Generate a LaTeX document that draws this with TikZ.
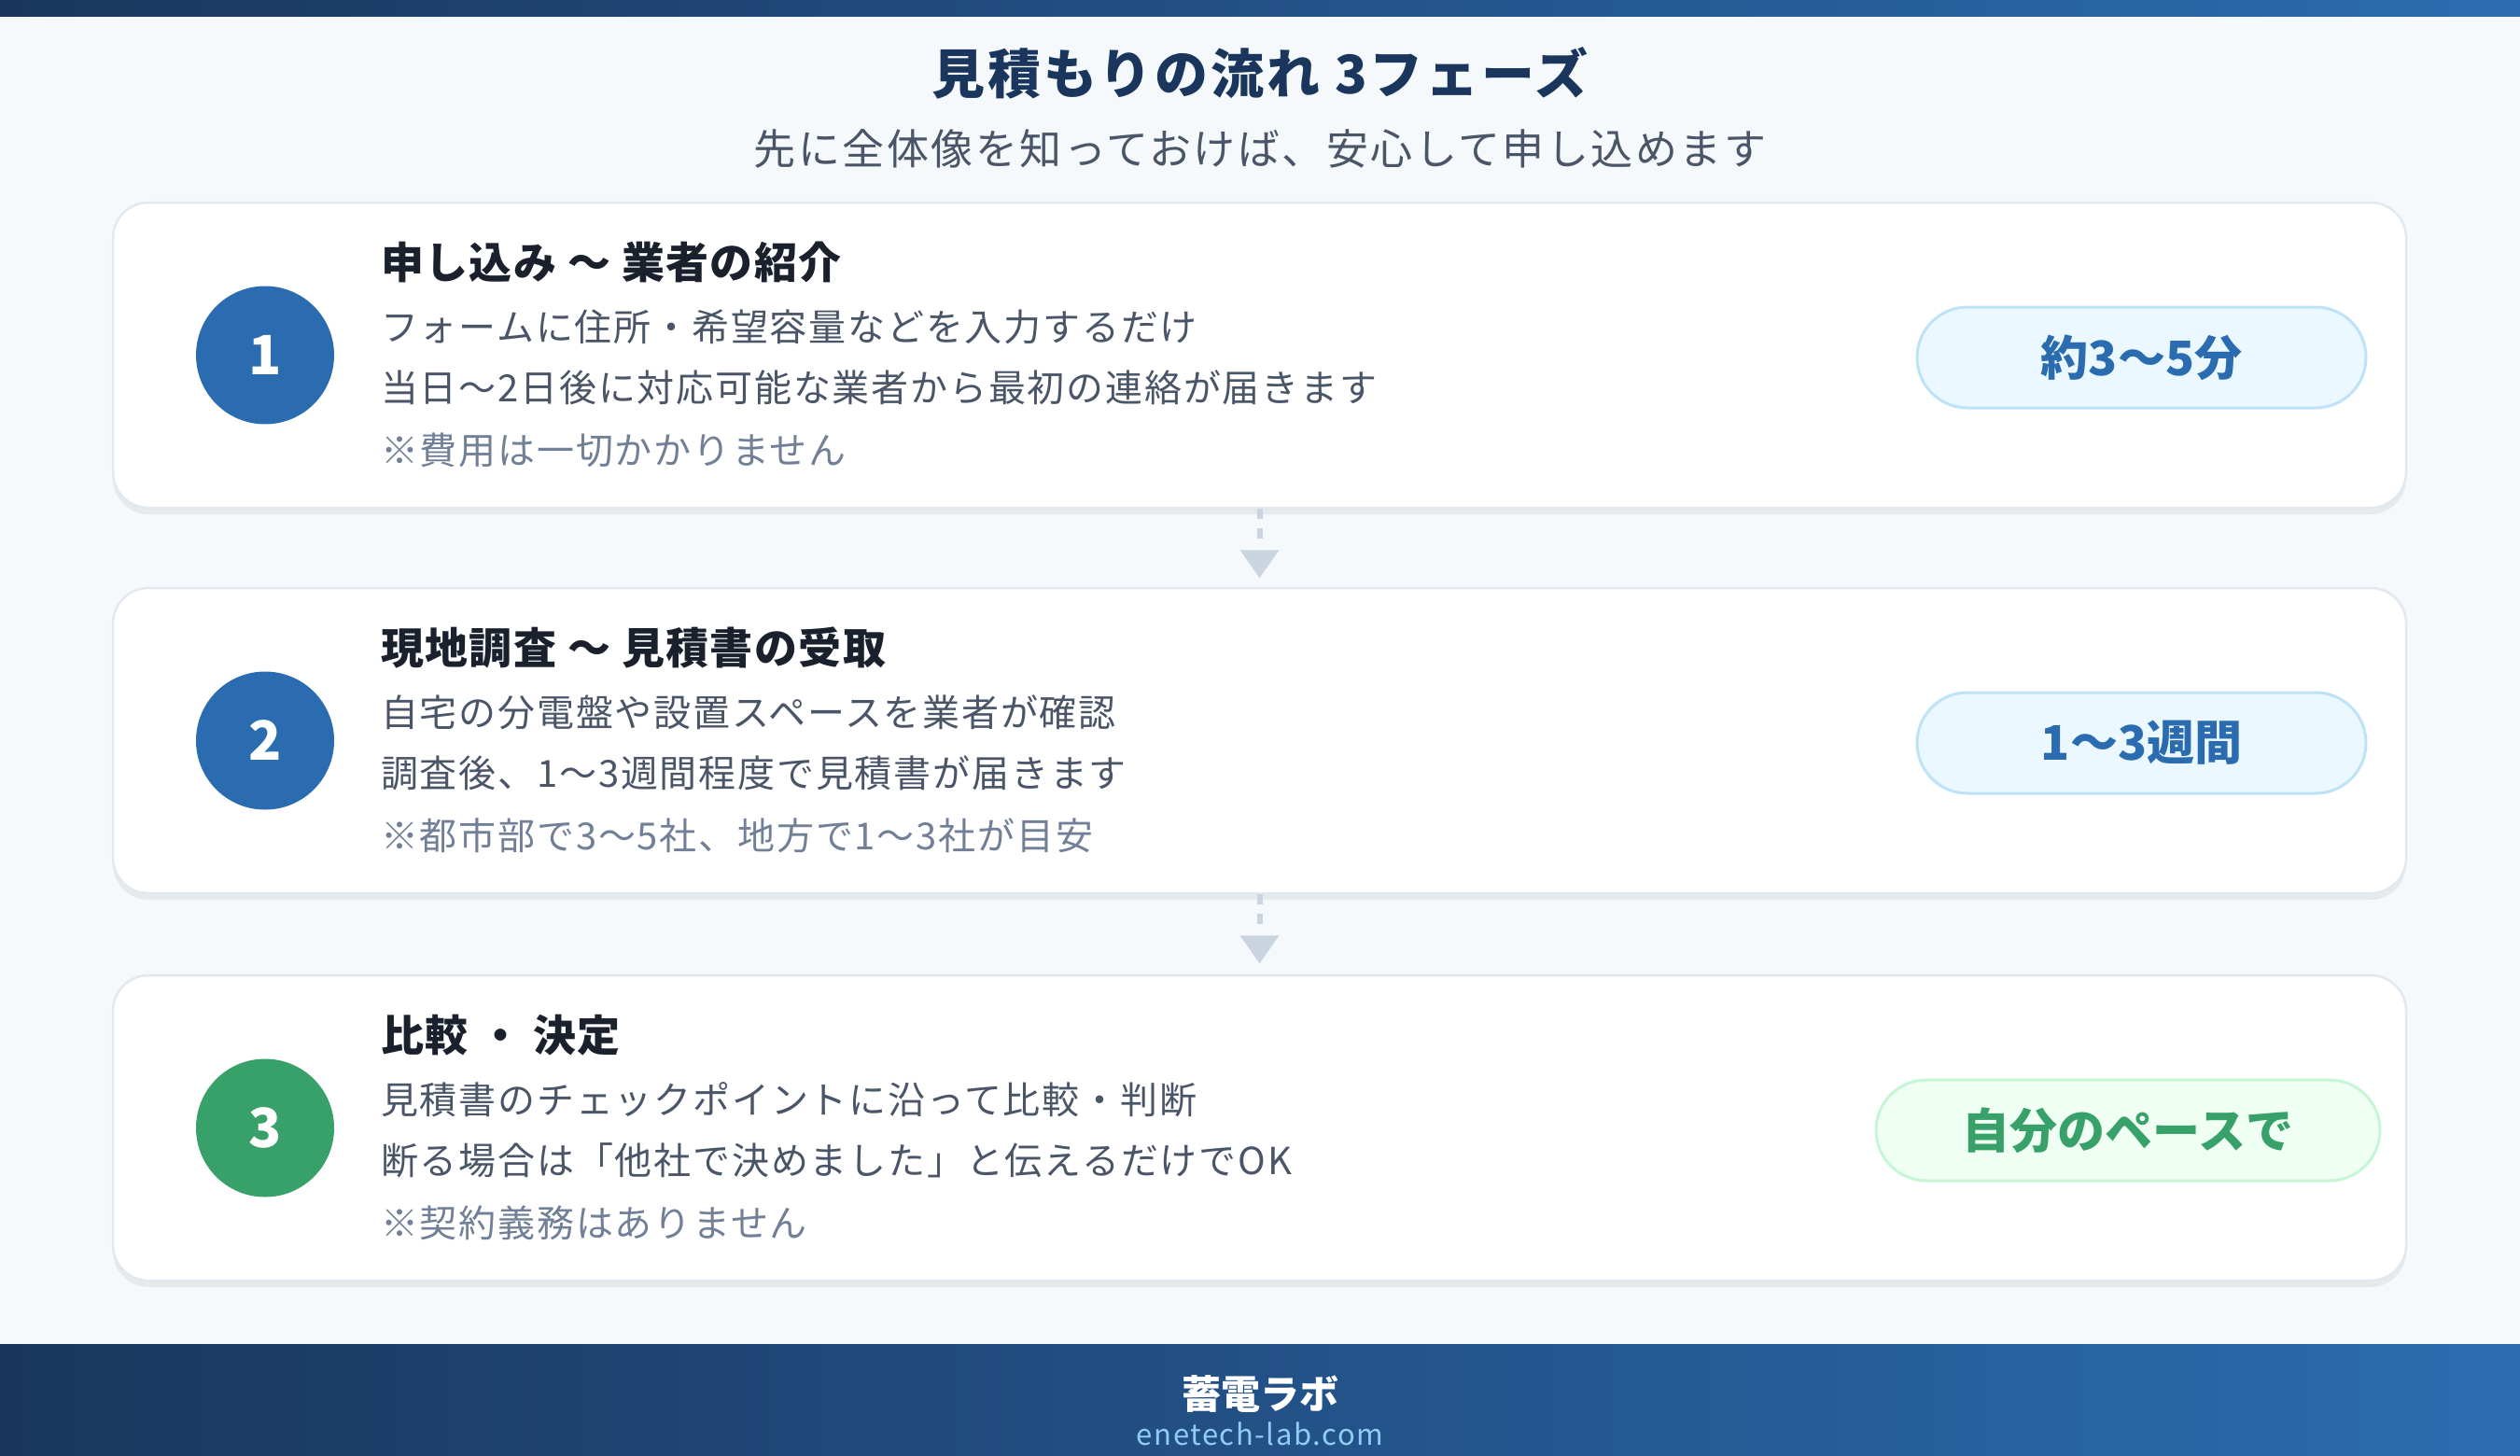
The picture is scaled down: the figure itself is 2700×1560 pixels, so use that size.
\documentclass[tikz,border=0pt]{standalone}
\usepackage{fontspec}
\setmainfont{Noto Sans CJK JP}
\usetikzlibrary{calc,shadows}
\definecolor{bg}{HTML}{F5F9FC}
\definecolor{navyL}{HTML}{1A365D}
\definecolor{blueR}{HTML}{2B6CB0}
\definecolor{titlec}{HTML}{1A365D}
\definecolor{subc}{HTML}{4A5568}
\definecolor{headc}{HTML}{1A202C}
\definecolor{bodyc}{HTML}{4A5568}
\definecolor{notec}{HTML}{718096}
\definecolor{cardline}{HTML}{E2E8F0}
\definecolor{arrowc}{HTML}{CBD5E1}
\definecolor{stepblue}{HTML}{2B6CB0}
\definecolor{stepgreen}{HTML}{38A169}
\definecolor{pillbfill}{HTML}{EBF8FF}
\definecolor{pillbline}{HTML}{BEE3F8}
\definecolor{pillgfill}{HTML}{F0FFF4}
\definecolor{pillgline}{HTML}{C6F6D5}
\definecolor{footurl}{HTML}{90CDF4}
\newcommand\myfs[1]{\fontsize{#1}{#1}\selectfont}
\newcommand\myls[1]{\addfontfeatures{LetterSpace=#1}}
\begin{document}
\begin{tikzpicture}[x=1pt,y=-1pt,
  card/.style={draw=cardline, line width=2.5pt, fill=white, rounded corners=38pt,
    minimum width=2457pt, minimum height=327pt, inner sep=0pt,
    drop shadow={shadow xshift=0pt, shadow yshift=-7pt, opacity=0.06, fill=black}},
  stepnum/.style={circle, minimum size=148pt, inner sep=0pt, text=white,
    font=\myfs{58}\bfseries},
  cardtitle/.style={anchor=west, inner sep=0pt, text=headc, font=\myfs{46}\bfseries\myls{3}},
  bodyline/.style={anchor=west, inner sep=0pt, text=bodyc, font=\myfs{40}\myls{4.5}},
  noteline/.style={anchor=west, inner sep=0pt, text=notec, font=\myfs{40}\myls{4.5}},
  pill/.style={rounded corners=54pt, minimum height=108pt, inner sep=0pt,
    line width=3pt, font=\myfs{51}\bfseries},
  pillblue/.style={pill, draw=pillbline, fill=pillbfill, text=stepblue},
  pillgreen/.style={pill, draw=pillgline, fill=pillgfill, text=stepgreen},
  flowline/.style={draw=arrowc, line width=6pt, dash pattern=on 11pt off 10pt},
  flowtip/.style={fill=arrowc}
]
\useasboundingbox (0,0) rectangle (2700,1560);
\fill[bg] (0,0) rectangle (2700,1560);
% top bar
\shade[left color=navyL, right color=blueR] (0,0) rectangle (2700,18);
% footer
\shade[left color=navyL, right color=blueR] (0,1440) rectangle (2700,1560);
\node[text=white, font=\myfs{42}\bfseries, inner sep=0pt] (brand) at (1350,1494) {蓄電ラボ};
\node[text=footurl, font=\myfs{31}\myls{5}, inner sep=0pt] (url) at (1350,1536) {enetech-lab.com};

% heading
\node[text=titlec, font=\myfs{57}\bfseries\myls{5}, inner sep=0pt] (title) at (1350,78) {見積もりの流れ 3フェーズ};
\node[text=subc, font=\myfs{45}\myls{5.5}, inner sep=0pt] (subtitle) at (1350,159) {先に全体像を知っておけば、安心して申し込めます};

% card 1
\node[card] (card1) at (1349.5,380.5) {};
\node[stepnum, fill=stepblue] (num1) at (284,380.5) {1};
\node[cardtitle] (head1) at (408,281) {申し込み 〜 業者の紹介};
\node[bodyline] (l1a) at (408,350) {フォームに住所・希望容量などを入力するだけ};
\node[bodyline] (l1b) at (408,415) {当日〜2日後に対応可能な業者から最初の連絡が届きます};
\node[noteline] (l1c) at (408,482) {※費用は一切かかりません};
\node[pillblue, minimum width=481pt] (pill1) at (2294.5,383) {約3〜5分};

% card 2
\node[card] (card2) at (1349.5,793.5) {};
\node[stepnum, fill=stepblue] (num2) at (284,793.5) {2};
\node[cardtitle] (head2) at (408,694) {現地調査 〜 見積書の受取};
\node[bodyline] (l2a) at (408,763) {自宅の分電盤や設置スペースを業者が確認};
\node[bodyline] (l2b) at (408,828) {調査後、1〜3週間程度で見積書が届きます};
\node[noteline] (l2c) at (408,895) {※都市部で3〜5社、地方で1〜3社が目安};
\node[pillblue, minimum width=481pt] (pill2) at (2294.5,796) {1〜3週間};

% card 3
\node[card] (card3) at (1349.5,1208.5) {};
\node[stepnum, fill=stepgreen] (num3) at (284,1208.5) {3};
\node[cardtitle] (head3) at (408,1109) {比較 ・ 決定};
\node[bodyline] (l3a) at (408,1178) {見積書のチェックポイントに沿って比較・判断};
\node[bodyline] (l3b) at (408,1243) {断る場合は「他社で決めました」と伝えるだけでOK};
\node[noteline] (l3c) at (408,1310) {※契約義務はありません};
\node[pillgreen, minimum width=540pt] (pill3) at (2280,1211) {自分のペースで};

% connectors
\coordinate (d1) at ($(card1.south)+(0,34)$);
\coordinate (t1) at ($(card1.south)+(0,74)$);
\draw[flowline] (card1.south) -- (d1);
\fill[flowtip] (t1) -- ++(-21,-30) -- ++(42,0) -- cycle;
\coordinate (d2) at ($(card2.south)+(0,34)$);
\coordinate (t2) at ($(card2.south)+(0,74)$);
\draw[flowline] (card2.south) -- (d2);
\fill[flowtip] (t2) -- ++(-21,-30) -- ++(42,0) -- cycle;
\end{tikzpicture}
\end{document}
